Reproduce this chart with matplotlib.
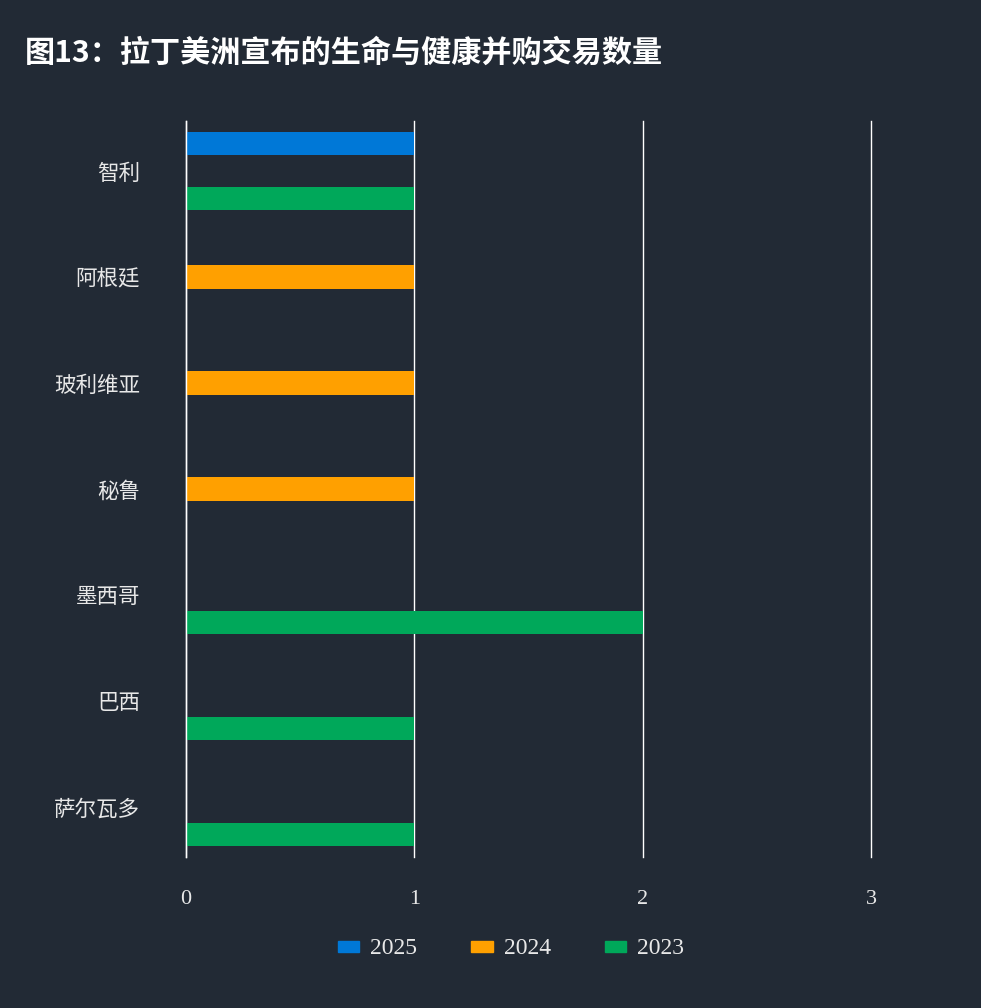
import numpy as np
import matplotlib.pyplot as plt
from matplotlib.patches import Patch

plt.rcParams['font.family'] = ['Noto Sans CJK SC', 'DejaVu Sans']

# datos
paises = ['智利', '阿根廷', '玻利维亚', '秘鲁', '墨西哥', '巴西', '萨尔瓦多']
anios = ['2025', '2024', '2023']
v2025 = [1, 0, 0, 0, 0, 0, 0]
v2024 = [0, 1, 1, 1, 0, 0, 0]
v2023 = [1, 0, 0, 0, 2, 1, 1]
colores = ['#0078d7', '#ffa000', '#00a85a']
xticks = [0, 1, 2, 3]

bg = '#222a35'
fig = plt.figure(figsize=(9.81, 10.08), dpi=100, facecolor=bg)
ax = fig.add_axes([186/981, 1-857/1008, (871-186)/981, (857-121)/1008])
ax.set_facecolor(bg)

y = np.arange(len(paises))
off = 0.259
h = 0.217
for serie, d, c in zip([v2025, v2024, v2023], [-off, 0, off], colores):
    ax.barh(y + d, serie, height=h, color=c, zorder=2)

ax.set_xlim(0, 3)
ax.set_ylim(6.4717, -0.4717)
ax.set_xticks(xticks)
ax.set_xticklabels([str(t) for t in xticks], family='Liberation Serif',
                   fontsize=16, color='#e8e8e8')
ax.set_yticks(y)
ax.set_yticklabels(paises, fontsize=15.5, color='#e8e8e8', fontweight='light')
ax.tick_params(axis='both', length=0)
ax.tick_params(axis='y', pad=33)
ax.tick_params(axis='x', pad=24)
for lab in ax.get_xticklabels():
    lab.set_x(lab.get_position()[0])
ax.grid(axis='x', color='white', linewidth=1, zorder=1)
for gl in ax.get_xgridlines():
    gl.set_clip_on(False)
for s in ['top', 'right', 'bottom']:
    ax.spines[s].set_visible(False)
ax.spines['left'].set_color('white')
ax.spines['left'].set_linewidth(1)
ax.spines['left'].set_zorder(3)

handles = [Patch(color=c, label=a) for a, c in zip(anios, colores)]
leg = fig.legend(handles=handles, loc='center', bbox_to_anchor=(511/981, 1-949/1008),
                 ncol=3, frameon=False, handlelength=0.9, handleheight=0.34,
                 columnspacing=2.3, handletextpad=0.47,
                 prop={'family': 'Liberation Serif', 'size': 17})
for t in leg.get_texts():
    t.set_color('#e8e8e8')

fig.text(25/981, 1-53/1008, '图13：拉丁美洲宣布的生命与健康并购交易数量',
         fontsize=21.7, fontweight='bold', color='white', va='center', ha='left')

fig.savefig('out.png', dpi=100, facecolor=bg)
